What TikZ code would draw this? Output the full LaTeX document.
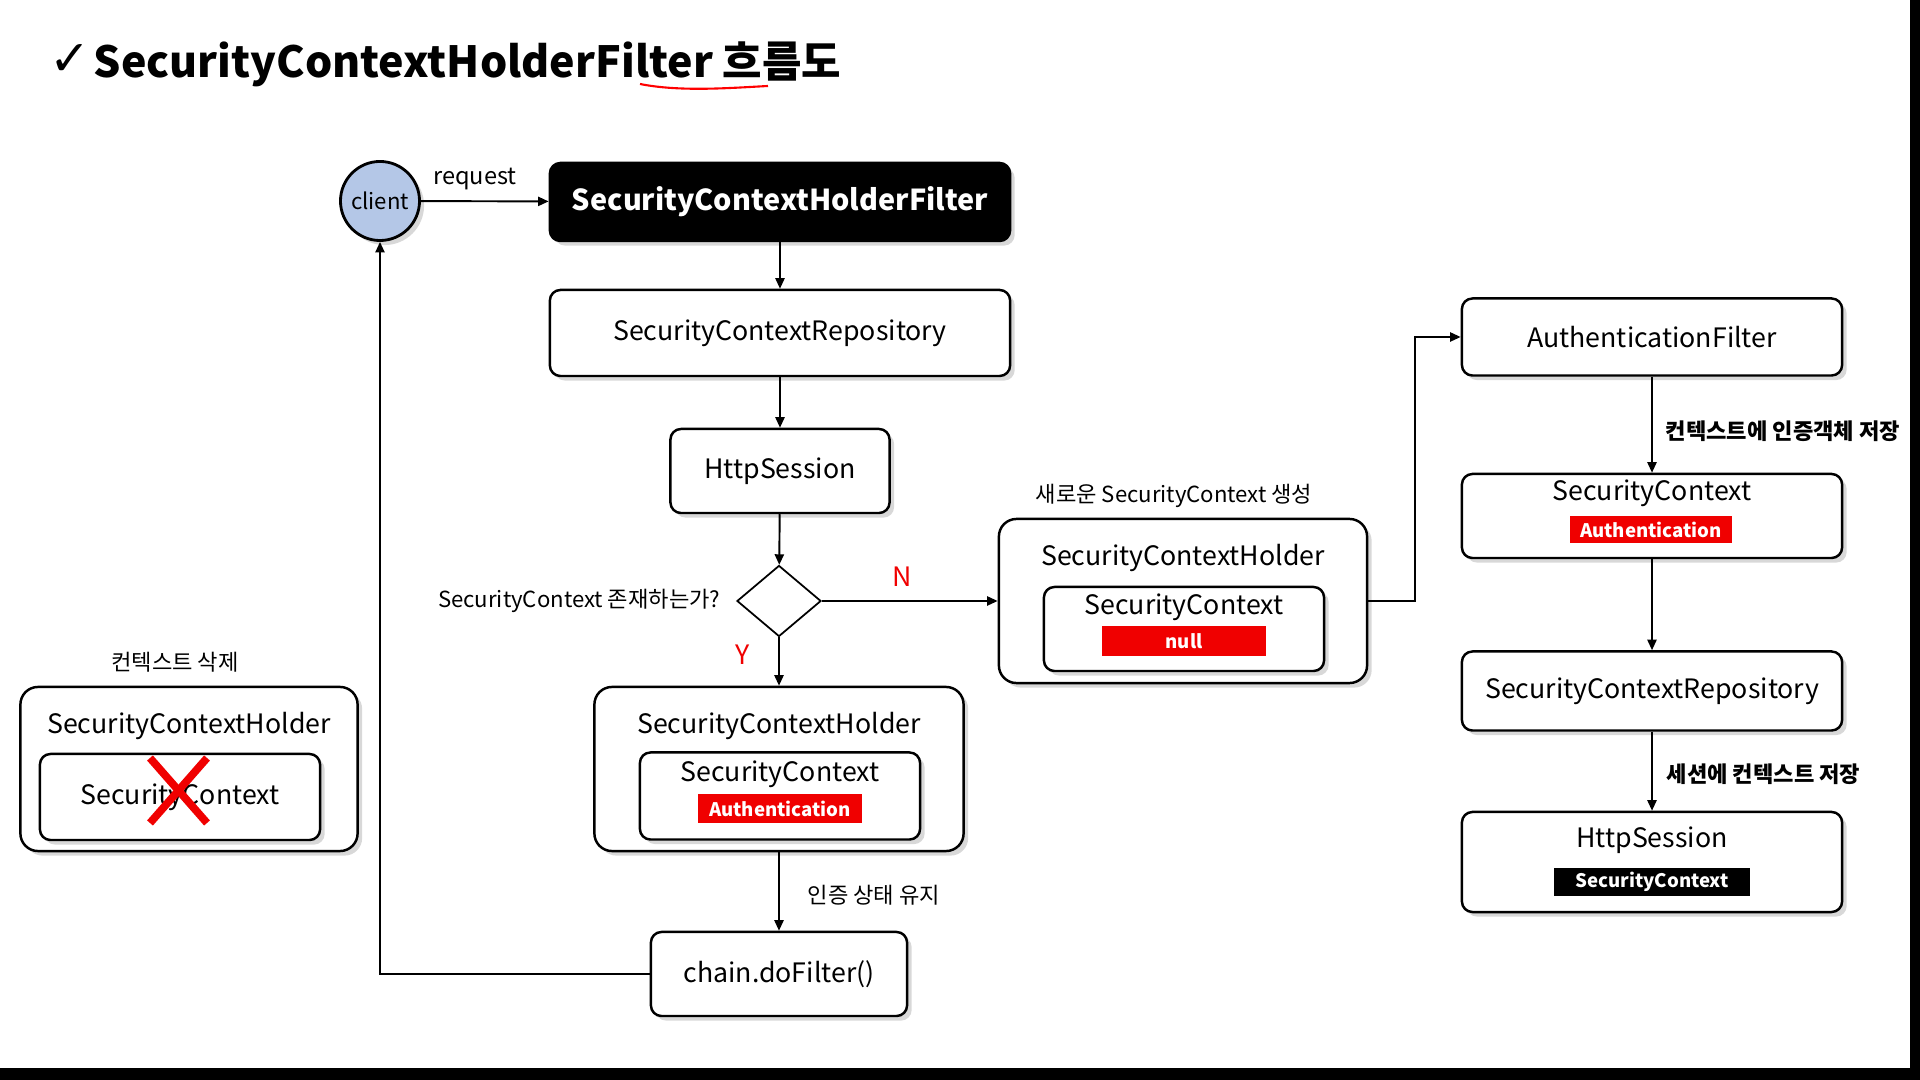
\documentclass[tikz,border=0pt]{standalone}
\usepackage{fontspec}
\setmainfont{Noto Sans CJK KR}
\newfontfamily\symfont{DejaVu Sans}
\usetikzlibrary{arrows.meta,shadows,shapes.geometric}
\definecolor{clientblue}{RGB}{180,199,231}
\definecolor{tagred}{RGB}{240,0,0}
\newcommand{\titlefont}{\fontsize{12.2pt}{14pt}\selectfont\bfseries}
\newcommand{\boxfont}{\fontsize{7.6pt}{9pt}\selectfont}
\newcommand{\labfont}{\fontsize{6.3pt}{7pt}\selectfont}
\newcommand{\tagfont}{\fontsize{5.3pt}{6pt}\selectfont}

\begin{document}
\begin{tikzpicture}[x=0.01cm,y=-0.01cm,
   box/.style={draw,line width=0.7pt,rounded corners=3pt,fill=white,inner sep=0pt,
      font=\boxfont,drop shadow={shadow xshift=1.3pt,shadow yshift=-1.3pt,opacity=.3}},
   holder/.style={box,rounded corners=5pt},
   tag/.style={fill=tagred,text=white,inner sep=0pt,font=\tagfont\bfseries},
   lab/.style={font=\labfont,inner sep=0pt},
   yn/.style={font=\fontsize{7.6pt}{8pt}\selectfont,text=tagred,inner sep=0pt},
   flow/.style={-{Triangle[length=3pt,width=2.6pt]},line width=0.55pt}]
   \useasboundingbox (0,0) rectangle (1920,1080);
   \fill[white] (0,0) rectangle (1920,1080);
   \fill[black] (1910,0) rectangle (1920,1080);
   \fill[black] (0,1068) rectangle (1920,1080);

   % title
   \node[anchor=west,inner sep=0pt] (check) at (49,60) {\symfont\bfseries\fontsize{14pt}{16pt}\selectfont ✓};
   \node[anchor=west,inner sep=0pt] (title) at (93,64) {\titlefont SecurityContextHolderFilter 흐름도};
   \draw[red,line width=0.6pt] (640,84) .. controls (680,92) and (730,88) .. (768,86);

   % main column
   \node[circle,draw,line width=0.8pt,fill=clientblue,minimum size=0.79cm,inner sep=0pt,
      font=\labfont,drop shadow={shadow xshift=1.3pt,shadow yshift=-1.3pt,opacity=.3}] (client) at (380,201) {client};
   \node[box,fill=black,text=white,minimum width=4.6cm,minimum height=0.78cm,
      font=\fontsize{8.2pt}{9pt}\selectfont\bfseries] (filter) at (780,202) {SecurityContextHolderFilter};
   \node[lab,font=\fontsize{6.7pt}{7pt}\selectfont] (request) at (475,179) {request};
   \node[box,minimum width=4.6cm,minimum height=0.86cm] (repo) at (780,333) {SecurityContextRepository};
   \node[box,minimum width=2.19cm,minimum height=0.84cm] (sess) at (780,471) {HttpSession};
   \node[diamond,draw,line width=0.5pt,fill=white,minimum width=0.84cm,minimum height=0.71cm,inner sep=0pt] (exists) at (779,601) {};
   \node[lab,anchor=east] (question) at (721,601) {SecurityContext 존재하는가?};
   \node[yn] (no) at (902,577) {N};
   \node[yn] (yes) at (743,655) {Y};

   % holder with authentication
   \node[holder,minimum width=3.69cm,minimum height=1.64cm] (holdY) at (779,769) {};
   \node[font=\boxfont,inner sep=0pt] (holdYt) at (779,726) {SecurityContextHolder};
   \node[box,minimum width=2.8cm,minimum height=0.87cm] (ctxY) at (780,796) {};
   \node[font=\boxfont,inner sep=0pt] (ctxYt) at (780,774) {SecurityContext};
   \node[tag,minimum width=1.64cm,minimum height=0.29cm] (authY) at (780,809) {Authentication};
   \node[box,minimum width=2.56cm,minimum height=0.84cm] (chain) at (779,974) {chain.doFilter()};
   \node[lab,anchor=west] (keep) at (807,895) {인증 상태 유지};

   % cleared holder
   \node[lab] (clear) at (175,662) {컨텍스트 삭제};
   \node[holder,minimum width=3.37cm,minimum height=1.64cm] (holdX) at (189,769) {};
   \node[font=\boxfont,inner sep=0pt] (holdXt) at (189,726) {SecurityContextHolder};
   \node[box,minimum width=2.8cm,minimum height=0.86cm] (ctxX) at (180,797) {SecurityContext};
   \draw[tagred,line width=2.2pt] (150,758) -- (207,823);
   \draw[tagred,line width=2.2pt] (207,758) -- (150,823);

   % new holder
   \node[lab] (create) at (1174,496) {새로운 SecurityContext 생성};
   \node[holder,minimum width=3.68cm,minimum height=1.64cm] (holdN) at (1183,601) {};
   \node[font=\boxfont,inner sep=0pt] (holdNt) at (1183,558) {SecurityContextHolder};
   \node[box,minimum width=2.8cm,minimum height=0.84cm] (ctxN) at (1184,629) {};
   \node[font=\boxfont,inner sep=0pt] (ctxNt) at (1184,607) {SecurityContext};
   \node[tag,minimum width=1.64cm,minimum height=0.30cm] (null) at (1184,641) {null};

   % right column
   \node[box,minimum width=3.8cm,minimum height=0.77cm] (authF) at (1652,337) {AuthenticationFilter};
   \node[lab,anchor=west,font=\labfont\bfseries] (store) at (1665,431) {컨텍스트에 인증객체 저장};
   \node[box,minimum width=3.8cm,minimum height=0.84cm] (ctxR) at (1652,516) {};
   \node[font=\boxfont,inner sep=0pt] (ctxRt) at (1652,493) {SecurityContext};
   \node[tag,minimum width=1.61cm,minimum height=0.27cm] (authR) at (1651,530) {Authentication};
   \node[box,minimum width=3.8cm,minimum height=0.79cm] (repoR) at (1652,691) {SecurityContextRepository};
   \node[lab,anchor=west,font=\labfont\bfseries] (save) at (1666,774) {세션에 컨텍스트 저장};
   \node[box,minimum width=3.8cm,minimum height=1.0cm] (sessR) at (1652,862) {};
   \node[font=\boxfont,inner sep=0pt] (sessRt) at (1652,840) {HttpSession};
   \node[tag,fill=black,minimum width=1.96cm,minimum height=0.27cm] (ctxS) at (1652,882) {SecurityContext};

   % connectors
   \draw[flow] (client) -- (filter);
   \draw[flow] (filter) -- (repo);
   \draw[flow] (repo) -- (sess);
   \draw[flow] (sess) -- (exists);
   \draw[flow] (exists) -- (holdY);
   \draw[flow] (exists) -- (holdN);
   \draw[flow] (holdY) -- (chain);
   \draw[flow] (chain.west) -| (client.south);
   \draw[flow] (holdN.east) -- ++(0.47cm,0) |- (authF.west);
   \draw[flow] (authF) -- (ctxR);
   \draw[flow] (ctxR) -- (repoR);
   \draw[flow] (repoR) -- (sessR);
\end{tikzpicture}
\end{document}
